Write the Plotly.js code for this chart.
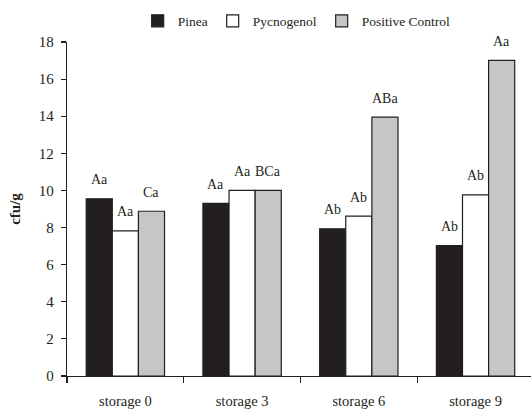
<!DOCTYPE html>
<html>
<head>
<meta charset="utf-8">
<script src="https://cdn.plot.ly/plotly-3.0.1.min.js"></script>
<style>html,body{margin:0;padding:0;background:#fff;}#chart{width:531px;height:411px;}</style>
</head>
<body>
<div id="chart"></div>
<script>
const categories = ["storage 0", "storage 3", "storage 6", "storage 9"];
const seriesNames = ["Pinea", "Pycnogenol", "Positive Control"];
const pinea = [9.55, 9.3, 7.93, 7.03];
const pycnogenol = [7.82, 10.0, 8.62, 9.76];
const positiveControl = [8.88, 10.0, 13.95, 17.01];
const pineaLabels = ["Aa", "Aa", "Ab", "Ab"];
const pycnogenolLabels = ["Aa", "Aa", "Ab", "Ab"];
const positiveLabels = ["Ca", "BCa", "ABa", "Aa"];
const yTicks = [0, 2, 4, 6, 8, 10, 12, 14, 16, 18];

const FONT = "'Liberation Serif', 'Times New Roman', serif";
const INK = "#231f20";
const fills = [INK, "#ffffff", "#c6c6c6"];
const values = [pinea, pycnogenol, positiveControl];
const labels = [pineaLabels, pycnogenolLabels, positiveLabels];

const traces = values.map((v, i) => ({
  type: "bar",
  name: seriesNames[i],
  x: categories,
  y: v,
  marker: {color: fills[i], line: {color: INK, width: 1.2}},
  hoverinfo: "skip"
}));

const shifts = [-26.1, 0, 26.1];
const annotations = [];
values.forEach((v, i) => {
  v.forEach((val, j) => {
    annotations.push({
      x: categories[j], y: val, xref: "x", yref: "y",
      text: labels[i][j], showarrow: false,
      xshift: shifts[i], yshift: 19, yanchor: "middle",
      font: {family: FONT, size: 14, color: INK}
    });
  });
});

const layout = {
  width: 531, height: 411,
  margin: {l: 67, r: 0, t: 42, b: 35.3, pad: 0},
  paper_bgcolor: "#ffffff", plot_bgcolor: "#ffffff",
  font: {family: FONT, color: INK},
  barmode: "group", bargap: 0.329, bargroupgap: 0,
  showlegend: true,
  legend: {
    orientation: "h", x: 0.495, xanchor: "center", xref: "paper",
    y: 1 - 21/411, yanchor: "middle", yref: "container",
    font: {family: FONT, size: 13.5, color: INK},
    traceorder: "normal", itemclick: false
  },
  xaxis: {
    type: "category", range: [-0.5, 3.475],
    showline: true, linecolor: INK, linewidth: 1.2,
    ticks: "outside", tickson: "boundaries", ticklen: 6, tickcolor: INK, tickwidth: 1.2,
    ticklabelstandoff: 11,
    tickfont: {family: FONT, size: 14.5, color: INK},
    showgrid: false, zeroline: false, fixedrange: true
  },
  yaxis: {
    range: [0, 18], tickvals: yTicks,
    showline: true, linecolor: INK, linewidth: 1.2,
    ticks: "outside", ticklen: 5, tickcolor: INK, tickwidth: 1.2,
    ticklabelstandoff: 4,
    tickfont: {family: FONT, size: 15, color: INK},
    showgrid: false, zeroline: false, fixedrange: true,
    title: {text: "<b>cfu/g</b>", font: {family: FONT, size: 15, color: INK}, standoff: 14}
  },
  annotations: annotations
};

Plotly.newPlot("chart", traces, layout, {displayModeBar: false, staticPlot: true});
</script>
</body>
</html>
